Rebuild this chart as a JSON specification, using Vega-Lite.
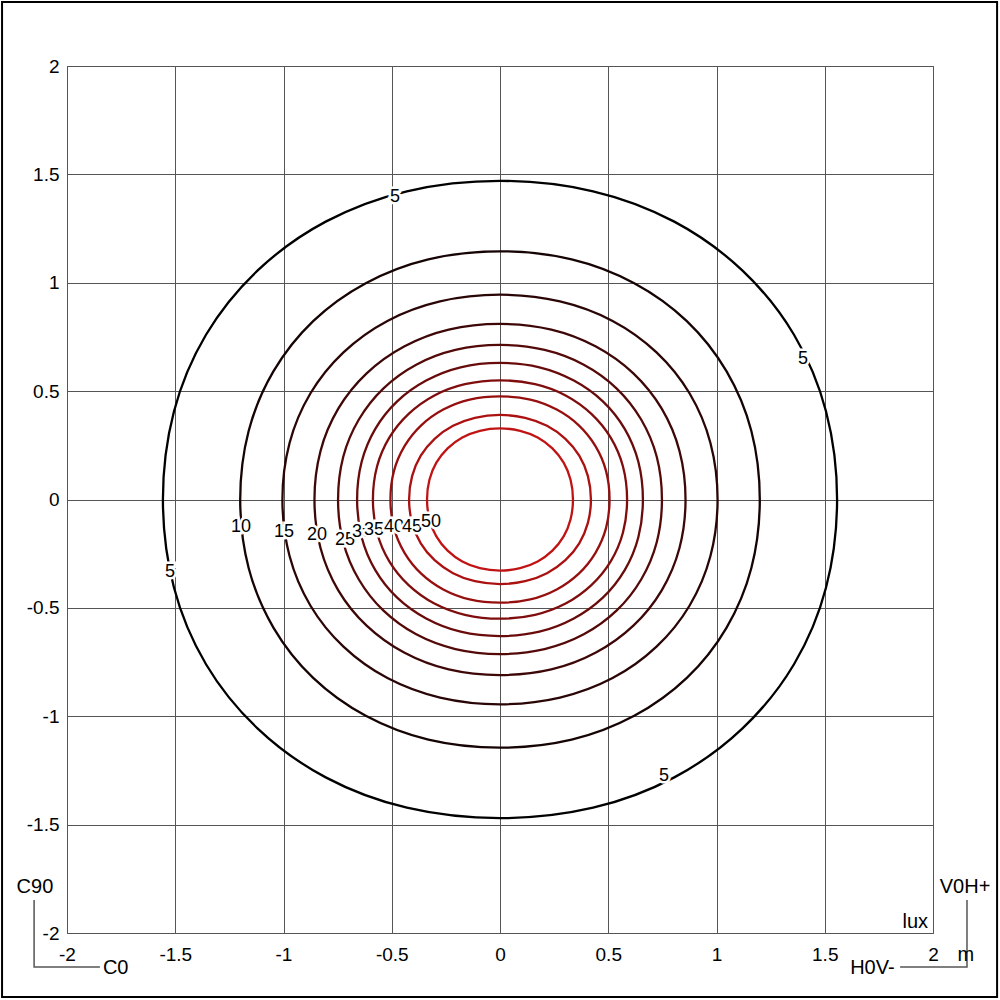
{
  "$schema": "https://vega.github.io/schema/vega-lite/v6.json",
  "width": 866,
  "height": 867,
  "autosize": {"type": "none"},
  "padding": {"left": 67, "top": 66, "right": 67, "bottom": 67},
  "background": "white",
  "config": {
    "view": {"stroke": "#555555", "strokeWidth": 1},
    "font": "Liberation Sans",
    "axis": {
      "grid": true, "gridColor": "#555555", "gridOpacity": 1, "gridWidth": 1,
      "domain": false, "ticks": false, "labelFontSize": 19, "labelColor": "#000000",
      "labelFont": "Liberation Sans", "labelFlush": false, "labelOverlap": false, "title": null
    }
  },
  "datasets": {
    "contours": [
      {"c":5,"i":0,"x":1.557,"y":0},{"c":5,"i":1,"x":1.506,"y":0.406},{"c":5,"i":2,"x":1.358,"y":0.76},{"c":5,"i":3,"x":1.119,"y":1.057},{"c":5,"i":4,"x":0.805,"y":1.282},{"c":5,"i":5,"x":0.43,"y":1.422},{"c":5,"i":6,"x":0,"y":1.47},{"c":5,"i":7,"x":-0.43,"y":1.422},{"c":5,"i":8,"x":-0.805,"y":1.282},{"c":5,"i":9,"x":-1.119,"y":1.057},{"c":5,"i":10,"x":-1.358,"y":0.76},{"c":5,"i":11,"x":-1.506,"y":0.406},{"c":5,"i":12,"x":-1.557,"y":0},{"c":5,"i":13,"x":-1.506,"y":-0.406},{"c":5,"i":14,"x":-1.358,"y":-0.76},{"c":5,"i":15,"x":-1.119,"y":-1.057},{"c":5,"i":16,"x":-0.805,"y":-1.282},{"c":5,"i":17,"x":-0.43,"y":-1.422},{"c":5,"i":18,"x":0,"y":-1.47},{"c":5,"i":19,"x":0.43,"y":-1.422},{"c":5,"i":20,"x":0.805,"y":-1.282},{"c":5,"i":21,"x":1.119,"y":-1.057},{"c":5,"i":22,"x":1.358,"y":-0.76},{"c":5,"i":23,"x":1.506,"y":-0.406},
      {"c":10,"i":0,"x":1.2,"y":0},{"c":10,"i":1,"x":1.161,"y":0.316},{"c":10,"i":2,"x":1.046,"y":0.592},{"c":10,"i":3,"x":0.863,"y":0.823},{"c":10,"i":4,"x":0.62,"y":0.998},{"c":10,"i":5,"x":0.331,"y":1.108},{"c":10,"i":6,"x":0,"y":1.145},{"c":10,"i":7,"x":-0.331,"y":1.108},{"c":10,"i":8,"x":-0.62,"y":0.998},{"c":10,"i":9,"x":-0.863,"y":0.823},{"c":10,"i":10,"x":-1.046,"y":0.592},{"c":10,"i":11,"x":-1.161,"y":0.316},{"c":10,"i":12,"x":-1.2,"y":0},{"c":10,"i":13,"x":-1.161,"y":-0.316},{"c":10,"i":14,"x":-1.046,"y":-0.592},{"c":10,"i":15,"x":-0.863,"y":-0.823},{"c":10,"i":16,"x":-0.62,"y":-0.998},{"c":10,"i":17,"x":-0.331,"y":-1.108},{"c":10,"i":18,"x":0,"y":-1.145},{"c":10,"i":19,"x":0.331,"y":-1.108},{"c":10,"i":20,"x":0.62,"y":-0.998},{"c":10,"i":21,"x":0.863,"y":-0.823},{"c":10,"i":22,"x":1.046,"y":-0.592},{"c":10,"i":23,"x":1.161,"y":-0.316},
      {"c":15,"i":0,"x":1.005,"y":0},{"c":15,"i":1,"x":0.972,"y":0.261},{"c":15,"i":2,"x":0.876,"y":0.489},{"c":15,"i":3,"x":0.723,"y":0.679},{"c":15,"i":4,"x":0.52,"y":0.824},{"c":15,"i":5,"x":0.277,"y":0.914},{"c":15,"i":6,"x":0,"y":0.945},{"c":15,"i":7,"x":-0.277,"y":0.914},{"c":15,"i":8,"x":-0.52,"y":0.824},{"c":15,"i":9,"x":-0.723,"y":0.679},{"c":15,"i":10,"x":-0.876,"y":0.489},{"c":15,"i":11,"x":-0.972,"y":0.261},{"c":15,"i":12,"x":-1.005,"y":0},{"c":15,"i":13,"x":-0.972,"y":-0.261},{"c":15,"i":14,"x":-0.876,"y":-0.489},{"c":15,"i":15,"x":-0.723,"y":-0.679},{"c":15,"i":16,"x":-0.52,"y":-0.824},{"c":15,"i":17,"x":-0.277,"y":-0.914},{"c":15,"i":18,"x":0,"y":-0.945},{"c":15,"i":19,"x":0.277,"y":-0.914},{"c":15,"i":20,"x":0.52,"y":-0.824},{"c":15,"i":21,"x":0.723,"y":-0.679},{"c":15,"i":22,"x":0.876,"y":-0.489},{"c":15,"i":23,"x":0.972,"y":-0.261},
      {"c":20,"i":0,"x":0.857,"y":0},{"c":20,"i":1,"x":0.829,"y":0.224},{"c":20,"i":2,"x":0.747,"y":0.419},{"c":20,"i":3,"x":0.616,"y":0.582},{"c":20,"i":4,"x":0.443,"y":0.706},{"c":20,"i":5,"x":0.237,"y":0.784},{"c":20,"i":6,"x":0,"y":0.81},{"c":20,"i":7,"x":-0.237,"y":0.784},{"c":20,"i":8,"x":-0.443,"y":0.706},{"c":20,"i":9,"x":-0.616,"y":0.582},{"c":20,"i":10,"x":-0.747,"y":0.419},{"c":20,"i":11,"x":-0.829,"y":0.224},{"c":20,"i":12,"x":-0.857,"y":0},{"c":20,"i":13,"x":-0.829,"y":-0.224},{"c":20,"i":14,"x":-0.747,"y":-0.419},{"c":20,"i":15,"x":-0.616,"y":-0.582},{"c":20,"i":16,"x":-0.443,"y":-0.706},{"c":20,"i":17,"x":-0.237,"y":-0.784},{"c":20,"i":18,"x":0,"y":-0.81},{"c":20,"i":19,"x":0.237,"y":-0.784},{"c":20,"i":20,"x":0.443,"y":-0.706},{"c":20,"i":21,"x":0.616,"y":-0.582},{"c":20,"i":22,"x":0.747,"y":-0.419},{"c":20,"i":23,"x":0.829,"y":-0.224},
      {"c":25,"i":0,"x":0.748,"y":0},{"c":25,"i":1,"x":0.724,"y":0.197},{"c":25,"i":2,"x":0.652,"y":0.369},{"c":25,"i":3,"x":0.538,"y":0.513},{"c":25,"i":4,"x":0.387,"y":0.622},{"c":25,"i":5,"x":0.206,"y":0.69},{"c":25,"i":6,"x":0,"y":0.713},{"c":25,"i":7,"x":-0.206,"y":0.69},{"c":25,"i":8,"x":-0.387,"y":0.622},{"c":25,"i":9,"x":-0.538,"y":0.513},{"c":25,"i":10,"x":-0.652,"y":0.369},{"c":25,"i":11,"x":-0.724,"y":0.197},{"c":25,"i":12,"x":-0.748,"y":0},{"c":25,"i":13,"x":-0.724,"y":-0.197},{"c":25,"i":14,"x":-0.652,"y":-0.369},{"c":25,"i":15,"x":-0.538,"y":-0.513},{"c":25,"i":16,"x":-0.387,"y":-0.622},{"c":25,"i":17,"x":-0.206,"y":-0.69},{"c":25,"i":18,"x":0,"y":-0.713},{"c":25,"i":19,"x":0.206,"y":-0.69},{"c":25,"i":20,"x":0.387,"y":-0.622},{"c":25,"i":21,"x":0.538,"y":-0.513},{"c":25,"i":22,"x":0.652,"y":-0.369},{"c":25,"i":23,"x":0.724,"y":-0.197},
      {"c":30,"i":0,"x":0.66,"y":0},{"c":30,"i":1,"x":0.639,"y":0.174},{"c":30,"i":2,"x":0.576,"y":0.326},{"c":30,"i":3,"x":0.475,"y":0.453},{"c":30,"i":4,"x":0.341,"y":0.549},{"c":30,"i":5,"x":0.182,"y":0.61},{"c":30,"i":6,"x":0,"y":0.63},{"c":30,"i":7,"x":-0.182,"y":0.61},{"c":30,"i":8,"x":-0.341,"y":0.549},{"c":30,"i":9,"x":-0.475,"y":0.453},{"c":30,"i":10,"x":-0.576,"y":0.326},{"c":30,"i":11,"x":-0.639,"y":0.174},{"c":30,"i":12,"x":-0.66,"y":0},{"c":30,"i":13,"x":-0.639,"y":-0.174},{"c":30,"i":14,"x":-0.576,"y":-0.326},{"c":30,"i":15,"x":-0.475,"y":-0.453},{"c":30,"i":16,"x":-0.341,"y":-0.549},{"c":30,"i":17,"x":-0.182,"y":-0.61},{"c":30,"i":18,"x":0,"y":-0.63},{"c":30,"i":19,"x":0.182,"y":-0.61},{"c":30,"i":20,"x":0.341,"y":-0.549},{"c":30,"i":21,"x":0.475,"y":-0.453},{"c":30,"i":22,"x":0.576,"y":-0.326},{"c":30,"i":23,"x":0.639,"y":-0.174},
      {"c":35,"i":0,"x":0.587,"y":0},{"c":35,"i":1,"x":0.568,"y":0.152},{"c":35,"i":2,"x":0.512,"y":0.284},{"c":35,"i":3,"x":0.422,"y":0.395},{"c":35,"i":4,"x":0.303,"y":0.48},{"c":35,"i":5,"x":0.162,"y":0.532},{"c":35,"i":6,"x":0,"y":0.55},{"c":35,"i":7,"x":-0.162,"y":0.532},{"c":35,"i":8,"x":-0.303,"y":0.48},{"c":35,"i":9,"x":-0.422,"y":0.395},{"c":35,"i":10,"x":-0.512,"y":0.284},{"c":35,"i":11,"x":-0.568,"y":0.152},{"c":35,"i":12,"x":-0.587,"y":0},{"c":35,"i":13,"x":-0.568,"y":-0.152},{"c":35,"i":14,"x":-0.512,"y":-0.284},{"c":35,"i":15,"x":-0.422,"y":-0.395},{"c":35,"i":16,"x":-0.303,"y":-0.48},{"c":35,"i":17,"x":-0.162,"y":-0.532},{"c":35,"i":18,"x":0,"y":-0.55},{"c":35,"i":19,"x":0.162,"y":-0.532},{"c":35,"i":20,"x":0.303,"y":-0.48},{"c":35,"i":21,"x":0.422,"y":-0.395},{"c":35,"i":22,"x":0.512,"y":-0.284},{"c":35,"i":23,"x":0.568,"y":-0.152},
      {"c":40,"i":0,"x":0.506,"y":0},{"c":40,"i":1,"x":0.49,"y":0.131},{"c":40,"i":2,"x":0.441,"y":0.246},{"c":40,"i":3,"x":0.364,"y":0.342},{"c":40,"i":4,"x":0.262,"y":0.415},{"c":40,"i":5,"x":0.14,"y":0.461},{"c":40,"i":6,"x":0,"y":0.476},{"c":40,"i":7,"x":-0.14,"y":0.461},{"c":40,"i":8,"x":-0.262,"y":0.415},{"c":40,"i":9,"x":-0.364,"y":0.342},{"c":40,"i":10,"x":-0.441,"y":0.246},{"c":40,"i":11,"x":-0.49,"y":0.131},{"c":40,"i":12,"x":-0.506,"y":0},{"c":40,"i":13,"x":-0.49,"y":-0.131},{"c":40,"i":14,"x":-0.441,"y":-0.246},{"c":40,"i":15,"x":-0.364,"y":-0.342},{"c":40,"i":16,"x":-0.262,"y":-0.415},{"c":40,"i":17,"x":-0.14,"y":-0.461},{"c":40,"i":18,"x":0,"y":-0.476},{"c":40,"i":19,"x":0.14,"y":-0.461},{"c":40,"i":20,"x":0.262,"y":-0.415},{"c":40,"i":21,"x":0.364,"y":-0.342},{"c":40,"i":22,"x":0.441,"y":-0.246},{"c":40,"i":23,"x":0.49,"y":-0.131},
      {"c":45,"i":0,"x":0.42,"y":0},{"c":45,"i":1,"x":0.406,"y":0.108},{"c":45,"i":2,"x":0.366,"y":0.202},{"c":45,"i":3,"x":0.302,"y":0.28},{"c":45,"i":4,"x":0.217,"y":0.34},{"c":45,"i":5,"x":0.116,"y":0.377},{"c":45,"i":6,"x":0,"y":0.39},{"c":45,"i":7,"x":-0.116,"y":0.377},{"c":45,"i":8,"x":-0.217,"y":0.34},{"c":45,"i":9,"x":-0.302,"y":0.28},{"c":45,"i":10,"x":-0.366,"y":0.202},{"c":45,"i":11,"x":-0.406,"y":0.108},{"c":45,"i":12,"x":-0.42,"y":0},{"c":45,"i":13,"x":-0.406,"y":-0.108},{"c":45,"i":14,"x":-0.366,"y":-0.202},{"c":45,"i":15,"x":-0.302,"y":-0.28},{"c":45,"i":16,"x":-0.217,"y":-0.34},{"c":45,"i":17,"x":-0.116,"y":-0.377},{"c":45,"i":18,"x":0,"y":-0.39},{"c":45,"i":19,"x":0.116,"y":-0.377},{"c":45,"i":20,"x":0.217,"y":-0.34},{"c":45,"i":21,"x":0.302,"y":-0.28},{"c":45,"i":22,"x":0.366,"y":-0.202},{"c":45,"i":23,"x":0.406,"y":-0.108},
      {"c":50,"i":0,"x":0.337,"y":0},{"c":50,"i":1,"x":0.326,"y":0.091},{"c":50,"i":2,"x":0.294,"y":0.17},{"c":50,"i":3,"x":0.242,"y":0.236},{"c":50,"i":4,"x":0.174,"y":0.286},{"c":50,"i":5,"x":0.093,"y":0.317},{"c":50,"i":6,"x":0,"y":0.328},{"c":50,"i":7,"x":-0.093,"y":0.317},{"c":50,"i":8,"x":-0.174,"y":0.286},{"c":50,"i":9,"x":-0.242,"y":0.236},{"c":50,"i":10,"x":-0.294,"y":0.17},{"c":50,"i":11,"x":-0.326,"y":0.091},{"c":50,"i":12,"x":-0.337,"y":0},{"c":50,"i":13,"x":-0.326,"y":-0.091},{"c":50,"i":14,"x":-0.294,"y":-0.17},{"c":50,"i":15,"x":-0.242,"y":-0.236},{"c":50,"i":16,"x":-0.174,"y":-0.286},{"c":50,"i":17,"x":-0.093,"y":-0.317},{"c":50,"i":18,"x":0,"y":-0.328},{"c":50,"i":19,"x":0.093,"y":-0.317},{"c":50,"i":20,"x":0.174,"y":-0.286},{"c":50,"i":21,"x":0.242,"y":-0.236},{"c":50,"i":22,"x":0.294,"y":-0.17},{"c":50,"i":23,"x":0.326,"y":-0.091}
    ],
    "labels": [
      {"t":"5","o":1,"x":-0.485,"y":1.395},
      {"t":"5","o":1,"x":1.4,"y":0.647},
      {"t":"5","o":1,"x":-1.524,"y":-0.333},
      {"t":"5","o":1,"x":0.757,"y":-1.275},
      {"t":"10","o":1,"x":-1.196,"y":-0.125},
      {"t":"15","o":1,"x":-0.998,"y":-0.152},
      {"t":"20","o":1,"x":-0.845,"y":-0.166},
      {"t":"25","o":1,"x":-0.716,"y":-0.189},
      {"t":"30","o":2,"x":-0.637,"y":-0.148},
      {"t":"35","o":3,"x":-0.582,"y":-0.139},
      {"t":"40","o":4,"x":-0.49,"y":-0.129},
      {"t":"45","o":5,"x":-0.406,"y":-0.125},
      {"t":"50","o":6,"x":-0.319,"y":-0.106}
    ],
    "brackets": [
      {"g":"L","i":0,"x":-2.152,"y":-1.848},
      {"g":"L","i":1,"x":-2.152,"y":-2.157},
      {"g":"L","i":2,"x":-1.848,"y":-2.157},
      {"g":"R","i":0,"x":2.157,"y":-1.848},
      {"g":"R","i":1,"x":2.157,"y":-2.157},
      {"g":"R","i":2,"x":1.848,"y":-2.157}
    ],
    "notes": [
      {"t":"C90","x":-2.148,"y":-1.788},
      {"t":"C0","x":-1.775,"y":-2.162},
      {"t":"V0H+","x":2.148,"y":-1.788},
      {"t":"H0V-","x":1.72,"y":-2.162},
      {"t":"m","x":2.152,"y":-2.1},
      {"t":"lux","x":1.918,"y":-1.949}
    ],
    "frame": [{"x":-2.3,"x2":2.296,"y":2.295,"y2":-2.295}]
  },
  "encoding": {
    "x": {"type": "quantitative", "scale": {"domain": [-2, 2], "nice": false, "zero": false}},
    "y": {"type": "quantitative", "scale": {"domain": [-2, 2], "nice": false, "zero": false}}
  },
  "layer": [
    {
      "data": {"name": "frame"},
      "mark": {"type": "rect", "fill": null, "stroke": "#000000", "strokeWidth": 2, "clip": false},
      "encoding": {
        "x": {"field": "x", "type": "quantitative", "axis": {"values": [-2,-1.5,-1,-0.5,0,0.5,1,1.5,2], "labelExpr": "'' + datum.value", "orient": "bottom", "labelPadding": 12}},
        "x2": {"field": "x2"},
        "y": {"field": "y", "type": "quantitative", "axis": {"values": [-2,-1.5,-1,-0.5,0,0.5,1,1.5,2], "labelExpr": "'' + datum.value", "orient": "left", "labelPadding": 8}},
        "y2": {"field": "y2"}
      }
    },
    {
      "data": {"name": "contours"},
      "mark": {"type": "line", "interpolate": "cardinal-closed", "strokeWidth": 2.3},
      "encoding": {
        "x": {"field": "x", "type": "quantitative"},
        "y": {"field": "y", "type": "quantitative"},
        "order": {"field": "i", "type": "quantitative"},
        "detail": {"field": "c", "type": "ordinal"},
        "color": {"field": "c", "type": "ordinal", "legend": null,
          "scale": {"domain": [5,10,15,20,25,30,35,40,45,50],
            "range": ["#000000","#160303","#2a0505","#3e0707","#540909","#6a0b0b","#800d0d","#960f0f","#ab1111","#c01414"]}}
      }
    },
    {
      "data": {"name": "labels"},
      "transform": [{"filter": "datum.o == 1"}],
      "mark": {"type": "text", "fontSize": 18, "stroke": "white", "strokeWidth": 5, "fill": "white", "font": "Liberation Sans"},
      "encoding": {"x": {"field": "x", "type": "quantitative"}, "y": {"field": "y", "type": "quantitative"}, "text": {"field": "t"}}
    },
    {
      "data": {"name": "labels"},
      "transform": [{"filter": "datum.o == 1"}],
      "mark": {"type": "text", "fontSize": 18, "fill": "black", "font": "Liberation Sans"},
      "encoding": {"x": {"field": "x", "type": "quantitative"}, "y": {"field": "y", "type": "quantitative"}, "text": {"field": "t"}}
    },
    {
      "data": {"name": "labels"},
      "transform": [{"filter": "datum.o == 2"}],
      "mark": {"type": "text", "fontSize": 18, "stroke": "white", "strokeWidth": 5, "fill": "white", "font": "Liberation Sans"},
      "encoding": {"x": {"field": "x", "type": "quantitative"}, "y": {"field": "y", "type": "quantitative"}, "text": {"field": "t"}}
    },
    {
      "data": {"name": "labels"},
      "transform": [{"filter": "datum.o == 2"}],
      "mark": {"type": "text", "fontSize": 18, "fill": "black", "font": "Liberation Sans"},
      "encoding": {"x": {"field": "x", "type": "quantitative"}, "y": {"field": "y", "type": "quantitative"}, "text": {"field": "t"}}
    },
    {
      "data": {"name": "labels"},
      "transform": [{"filter": "datum.o == 3"}],
      "mark": {"type": "text", "fontSize": 18, "stroke": "white", "strokeWidth": 5, "fill": "white", "font": "Liberation Sans"},
      "encoding": {"x": {"field": "x", "type": "quantitative"}, "y": {"field": "y", "type": "quantitative"}, "text": {"field": "t"}}
    },
    {
      "data": {"name": "labels"},
      "transform": [{"filter": "datum.o == 3"}],
      "mark": {"type": "text", "fontSize": 18, "fill": "black", "font": "Liberation Sans"},
      "encoding": {"x": {"field": "x", "type": "quantitative"}, "y": {"field": "y", "type": "quantitative"}, "text": {"field": "t"}}
    },
    {
      "data": {"name": "labels"},
      "transform": [{"filter": "datum.o == 4"}],
      "mark": {"type": "text", "fontSize": 18, "stroke": "white", "strokeWidth": 5, "fill": "white", "font": "Liberation Sans"},
      "encoding": {"x": {"field": "x", "type": "quantitative"}, "y": {"field": "y", "type": "quantitative"}, "text": {"field": "t"}}
    },
    {
      "data": {"name": "labels"},
      "transform": [{"filter": "datum.o == 4"}],
      "mark": {"type": "text", "fontSize": 18, "fill": "black", "font": "Liberation Sans"},
      "encoding": {"x": {"field": "x", "type": "quantitative"}, "y": {"field": "y", "type": "quantitative"}, "text": {"field": "t"}}
    },
    {
      "data": {"name": "labels"},
      "transform": [{"filter": "datum.o == 5"}],
      "mark": {"type": "text", "fontSize": 18, "stroke": "white", "strokeWidth": 5, "fill": "white", "font": "Liberation Sans"},
      "encoding": {"x": {"field": "x", "type": "quantitative"}, "y": {"field": "y", "type": "quantitative"}, "text": {"field": "t"}}
    },
    {
      "data": {"name": "labels"},
      "transform": [{"filter": "datum.o == 5"}],
      "mark": {"type": "text", "fontSize": 18, "fill": "black", "font": "Liberation Sans"},
      "encoding": {"x": {"field": "x", "type": "quantitative"}, "y": {"field": "y", "type": "quantitative"}, "text": {"field": "t"}}
    },
    {
      "data": {"name": "labels"},
      "transform": [{"filter": "datum.o == 6"}],
      "mark": {"type": "text", "fontSize": 18, "stroke": "white", "strokeWidth": 5, "fill": "white", "font": "Liberation Sans"},
      "encoding": {"x": {"field": "x", "type": "quantitative"}, "y": {"field": "y", "type": "quantitative"}, "text": {"field": "t"}}
    },
    {
      "data": {"name": "labels"},
      "transform": [{"filter": "datum.o == 6"}],
      "mark": {"type": "text", "fontSize": 18, "fill": "black", "font": "Liberation Sans"},
      "encoding": {"x": {"field": "x", "type": "quantitative"}, "y": {"field": "y", "type": "quantitative"}, "text": {"field": "t"}}
    },
    {
      "data": {"name": "brackets"},
      "mark": {"type": "line", "stroke": "#555555", "strokeWidth": 1.5, "clip": false},
      "encoding": {
        "x": {"field": "x", "type": "quantitative"},
        "y": {"field": "y", "type": "quantitative"},
        "order": {"field": "i", "type": "quantitative"},
        "detail": {"field": "g", "type": "nominal"}
      }
    },
    {
      "data": {"name": "notes"},
      "mark": {"type": "text", "fontSize": 20, "fill": "black", "font": "Liberation Sans", "clip": false},
      "encoding": {
        "x": {"field": "x", "type": "quantitative"},
        "y": {"field": "y", "type": "quantitative"},
        "text": {"field": "t"}
      }
    }
  ]
}
